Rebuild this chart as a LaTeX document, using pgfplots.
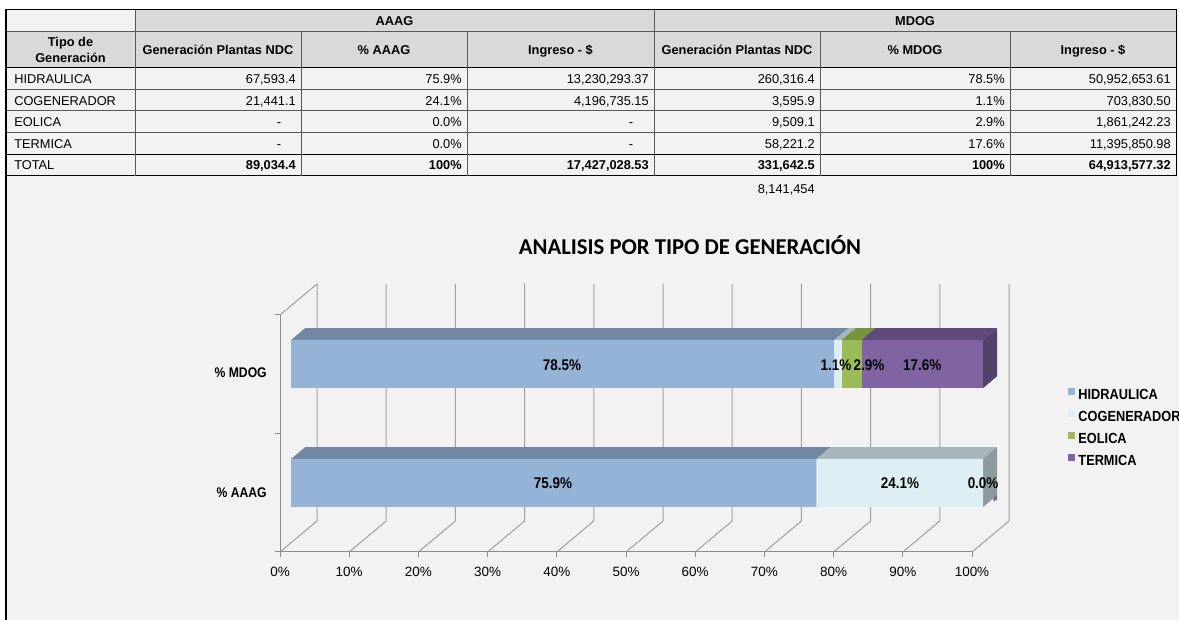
\documentclass[border=0pt]{standalone}
\usepackage{pgfplots}
\pgfplotsset{compat=1.18}
\usepackage{pgfplotstable}
\usepackage{fontspec}
\setmainfont{Liberation Sans}
\newfontfamily\narrowfont{Liberation Sans}[FakeStretch=0.87]
\newfontfamily\titlefont{Carlito}

\definecolor{bgc}{HTML}{F2F2F2}
\definecolor{hdr}{HTML}{D9D9D9}
\definecolor{gridc}{HTML}{A0A0A0}
\definecolor{tline}{HTML}{595959}
\definecolor{hidF}{HTML}{95B3D7}
\definecolor{hidT}{HTML}{7187A2}
\definecolor{cogF}{HTML}{DDEEF5}
\definecolor{cogT}{HTML}{A6B5BA}
\definecolor{cogS}{HTML}{8C9A9E}
\definecolor{eolF}{HTML}{9BBB59}
\definecolor{eolT}{HTML}{77933C}
\definecolor{terF}{HTML}{8064A2}
\definecolor{terT}{HTML}{604A7B}
\definecolor{terS}{HTML}{53406B}

\newcommand\tabfont{\fontsize{9.6}{11.5}\selectfont}
\newcommand\tickfont{\fontsize{10.1}{12}\selectfont}
\newcommand\catfont{\narrowfont\bfseries\fontsize{10.5}{12}\selectfont}
\newcommand\lblfont{\narrowfont\bfseries\fontsize{11.6}{13}\selectfont}
\newcommand\legfont{\narrowfont\bfseries\fontsize{11}{13}\selectfont}

% stacked bar data (percent of each group); y = bar centre in chart units
\pgfplotstableread{
cat  y    hid    cog    eol   ter
AAAG 69   75.92  24.08  0.00  0.00
MDOG 188  78.49  1.08   2.87  17.56
}\bars

% data labels as shown in the chart
\pgfplotstableread{
x      y    lab
40.75  187  78.5
80.35  187  1.1
85.10  187  2.9
92.80  187  17.6
39.45  69   75.9
89.60  69   24.1
101.6  69   0.0
}\labels

\pgfplotsset{chartaxis/.style={
  at={(210pt,51pt)}, anchor=south west,
  x=5.19pt, y=0.75pt,
  xmin=0, xmax=100, ymin=0, ymax=268,
  enlargelimits=false, clip=false,
}}

\begin{document}
\begin{tikzpicture}
\useasboundingbox (0pt,0pt) rectangle (884.25pt,465pt);
\begin{scope}[x=0.75pt,y=-0.75pt,shift={(0pt,465pt)}]
\fill[white] (0,0) rectangle (1179,620);
\fill[bgc] (6,9.3) rectangle (1179,620);
\fill[hdr] (135,9.3) rectangle (1176,31.7);
\fill[hdr] (6,31.7) rectangle (1176,67.5);
% table grid
\begin{scope}[line width=0.75pt]
\draw[tline] (6,31.7) -- (1176,31.7);
\draw[black] (6,67.5) -- (1176,67.5);
\draw[tline] (6,89.3)--(1176,89.3) (6,111)--(1176,111) (6,132.7)--(1176,132.7);
\draw[black] (6,154.5)--(1176,154.5) (6,176)--(1176,176);
\draw[tline] (135,9.3)--(135,176) (654,9.3)--(654,176);
\draw[tline] (301,31.7)--(301,176) (467,31.7)--(467,176) (820,31.7)--(820,176) (1010,31.7)--(1010,176);
\draw[black] (1176,9.3)--(1176,176);
\draw[black] (6,9.3)--(1176,9.3);
\end{scope}
\draw[black, line width=1.5pt] (6,9.3) -- (6,620);

% table text
\begin{scope}[every node/.style={inner sep=0pt, font=\tabfont}]
\node[anchor=base, font=\tabfont\bfseries] at (394.5,25.1) {AAAG};
\node[anchor=base, font=\tabfont\bfseries] at (915,25.1) {MDOG};
\node[anchor=base, font=\tabfont\bfseries] at (70.5,46.6) {Tipo de};
\node[anchor=base, font=\tabfont\bfseries] at (70.5,62.6) {Generación};
\node[anchor=base, font=\tabfont\bfseries] at (218,54.6) {Generación Plantas NDC};
\node[anchor=base, font=\tabfont\bfseries] at (384,54.6) {\% AAAG};
\node[anchor=base, font=\tabfont\bfseries] at (560.5,54.6) {Ingreso - \$};
\node[anchor=base, font=\tabfont\bfseries] at (737,54.6) {Generación Plantas NDC};
\node[anchor=base, font=\tabfont\bfseries] at (915,54.6) {\% MDOG};
\node[anchor=base, font=\tabfont\bfseries] at (1093,54.6) {Ingreso - \$};
% HIDRAULICA
\node[anchor=base west] at (14,83.9) {HIDRAULICA};
\node[anchor=base east] at (296,83.9) {67,593.4};
\node[anchor=base east] at (462,83.9) {75.9\%};
\node[anchor=base east] at (649,83.9) {13,230,293.37};
\node[anchor=base east] at (815,83.9) {260,316.4};
\node[anchor=base east] at (1005,83.9) {78.5\%};
\node[anchor=base east] at (1171,83.9) {50,952,653.61};
% COGENERADOR
\node[anchor=base west] at (14,105.4) {COGENERADOR};
\node[anchor=base east] at (296,105.4) {21,441.1};
\node[anchor=base east] at (462,105.4) {24.1\%};
\node[anchor=base east] at (649,105.4) {4,196,735.15};
\node[anchor=base east] at (815,105.4) {3,595.9};
\node[anchor=base east] at (1005,105.4) {1.1\%};
\node[anchor=base east] at (1171,105.4) {703,830.50};
% EOLICA
\node[anchor=base west] at (14,126.9) {EOLICA};
\node[anchor=base] at (279,126.9) {-};
\node[anchor=base east] at (462,126.9) {0.0\%};
\node[anchor=base] at (631,126.9) {-};
\node[anchor=base east] at (815,126.9) {9,509.1};
\node[anchor=base east] at (1005,126.9) {2.9\%};
\node[anchor=base east] at (1171,126.9) {1,861,242.23};
% TERMICA
\node[anchor=base west] at (14,148.4) {TERMICA};
\node[anchor=base] at (279,148.4) {-};
\node[anchor=base east] at (462,148.4) {0.0\%};
\node[anchor=base] at (631,148.4) {-};
\node[anchor=base east] at (815,148.4) {58,221.2};
\node[anchor=base east] at (1005,148.4) {17.6\%};
\node[anchor=base east] at (1171,148.4) {11,395,850.98};
% TOTAL
\node[anchor=base west] at (14,169.9) {TOTAL};
\node[anchor=base east, font=\tabfont\bfseries] at (296,169.9) {89,034.4};
\node[anchor=base east, font=\tabfont\bfseries] at (462,169.9) {100\%};
\node[anchor=base east, font=\tabfont\bfseries] at (649,169.9) {17,427,028.53};
\node[anchor=base east, font=\tabfont\bfseries] at (815,169.9) {331,642.5};
\node[anchor=base east, font=\tabfont\bfseries] at (1005,169.9) {100\%};
\node[anchor=base east, font=\tabfont\bfseries] at (1171,169.9) {64,913,577.32};
\node[anchor=base east] at (815,193.6) {8,141,454};
\end{scope}

% chart title
\node[anchor=base, inner sep=0pt, font=\titlefont\bfseries\fontsize{17}{20}\selectfont] at (690,254.2) {ANALISIS POR TIPO DE GENERACIÓN};
\end{scope}

% ---- axis 1: walls, floor, grid, ticks, top and side faces ----
\begin{axis}[chartaxis,
  axis line style={draw=none}, major tick length=0pt,
  xtick={0,10,...,100},
  xticklabels={0\%,10\%,20\%,30\%,40\%,50\%,60\%,70\%,80\%,90\%,100\%},
  xticklabel style={anchor=center, yshift=-15pt, inner sep=0pt, font=\tickfont},
  ytick={59,179}, yticklabels={\% AAAG,\% MDOG},
  yticklabel style={anchor=east, xshift=-9.75pt, inner sep=0pt, font=\catfont},
  unbounded coords=jump,
]
\addplot[gridc, line width=0.75pt, mark=none] coordinates {
 (5.35,31) (5.35,268) (nan,nan)
 (15.35,31) (15.35,268) (nan,nan)
 (25.35,31) (25.35,268) (nan,nan)
 (35.35,31) (35.35,268) (nan,nan)
 (45.35,31) (45.35,268) (nan,nan)
 (55.35,31) (55.35,268) (nan,nan)
 (65.35,31) (65.35,268) (nan,nan)
 (75.35,31) (75.35,268) (nan,nan)
 (85.35,31) (85.35,268) (nan,nan)
 (95.35,31) (95.35,268) (nan,nan)
 (105.35,31) (105.35,268) (nan,nan)
 (0,0) (5.35,31) (nan,nan)
 (10,0) (15.35,31) (nan,nan)
 (20,0) (25.35,31) (nan,nan)
 (30,0) (35.35,31) (nan,nan)
 (40,0) (45.35,31) (nan,nan)
 (50,0) (55.35,31) (nan,nan)
 (60,0) (65.35,31) (nan,nan)
 (70,0) (75.35,31) (nan,nan)
 (80,0) (85.35,31) (nan,nan)
 (90,0) (95.35,31) (nan,nan)
 (100,0) (105.35,31) (nan,nan)
 (0,237) (5.35,268) (nan,nan)
};
\addplot[black!45, line width=0.75pt, mark=none] coordinates {
 (0,0) (100,0) (nan,nan)
 (0,0) (0,237) (nan,nan)
 (0,0) (0,-5) (nan,nan) (10,0) (10,-5) (nan,nan) (20,0) (20,-5) (nan,nan)
 (30,0) (30,-5) (nan,nan) (40,0) (40,-5) (nan,nan) (50,0) (50,-5) (nan,nan)
 (60,0) (60,-5) (nan,nan) (70,0) (70,-5) (nan,nan) (80,0) (80,-5) (nan,nan)
 (90,0) (90,-5) (nan,nan) (100,0) (100,-5) (nan,nan)
 (-0.72,0) (0,0) (nan,nan) (-0.72,118.5) (0,118.5) (nan,nan) (-0.72,237) (0,237)
};
% top faces MDOG
\addplot[fill=hidT, draw=none, mark=none] coordinates {(1.6,212) (80.09,212) (82.12,223.8) (3.63,223.8)} -- cycle;
\addplot[fill=cogT, draw=none, mark=none] coordinates {(80.09,212) (81.17,212) (83.20,223.8) (82.12,223.8)} -- cycle;
\addplot[fill=eolT, draw=none, mark=none] coordinates {(81.17,212) (84.04,212) (86.07,223.8) (83.20,223.8)} -- cycle;
\addplot[fill=terT, draw=none, mark=none] coordinates {(84.04,212) (101.6,212) (103.63,223.8) (86.07,223.8)} -- cycle;
\addplot[fill=terS, draw=none, mark=none] coordinates {(101.6,164) (101.6,212) (103.63,223.8) (103.63,175.8)} -- cycle;
% top faces AAAG
\addplot[fill=hidT, draw=none, mark=none] coordinates {(1.6,93) (77.52,93) (79.55,104.8) (3.63,104.8)} -- cycle;
\addplot[fill=cogT, draw=none, mark=none] coordinates {(77.52,93) (101.6,93) (103.63,104.8) (79.55,104.8)} -- cycle;
\addplot[fill=cogS, draw=none, mark=none] coordinates {(101.6,45) (101.6,93) (103.63,104.8) (103.63,56.8)} -- cycle;
\addplot[fill=terF, draw=none, mark=none] coordinates {(103.1,51) (103.63,52) (103.63,57) (103.1,54)} -- cycle;
\end{axis}

% ---- axis 2: front faces (stacked bars) and legend ----
\begin{axis}[chartaxis, hide axis, xbar stacked, bar width=48,
  legend cell align=left,
  legend image code/.code={\draw[#1, draw=none] (0pt,0.6pt) rectangle (5.25pt,5.85pt);},
  legend style={at={(1.139,0.614)}, anchor=north west, draw=none, fill=none,
    inner sep=0pt, font=\legfont, row sep=6.1pt,
    nodes={inner sep=0pt},
    /tikz/every odd column/.append style={column sep=2.25pt}},
]
\addplot[draw=none, fill=none, forget plot] coordinates {(1.6,69) (1.6,188)};
\addplot[fill=hidF, draw=none] table[x=hid, y=y] {\bars};
\addlegendentry{HIDRAULICA}
\addplot[fill=cogF, draw=none] table[x=cog, y=y] {\bars};
\addlegendentry{COGENERADOR}
\addplot[fill=eolF, draw=none] table[x=eol, y=y] {\bars};
\addlegendentry{EOLICA}
\addplot[fill=terF, draw=none] table[x=ter, y=y] {\bars};
\addlegendentry{TERMICA}
\end{axis}

% ---- axis 3: data labels ----
\begin{axis}[chartaxis, hide axis]
\addplot[draw=none, mark=none, nodes near coords={\pgfplotspointmeta\%},
  point meta=explicit symbolic,
  every node near coord/.append style={anchor=center, inner sep=0pt, font=\lblfont, text=black}]
  table[x=x, y=y, meta=lab] {\labels};
\end{axis}
\end{tikzpicture}
\end{document}
